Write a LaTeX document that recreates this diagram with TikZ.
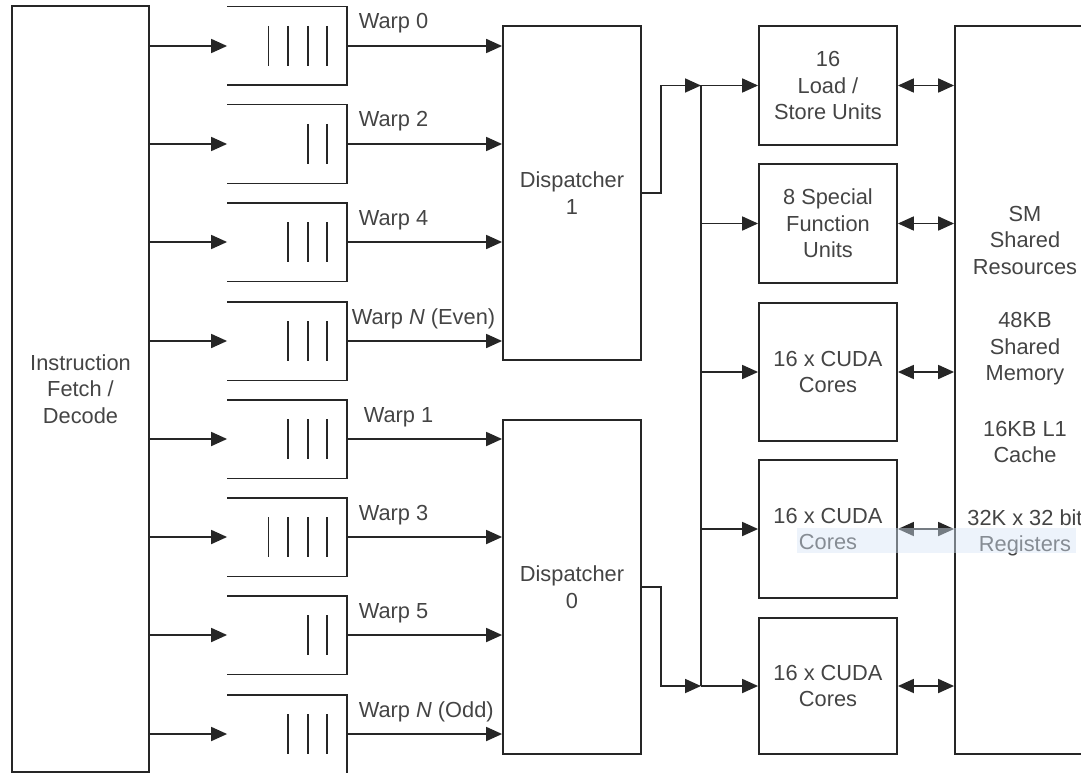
\documentclass[tikz,border=0pt]{standalone}
\usepackage{fontspec}
\setmainfont{Liberation Sans}
\usetikzlibrary{arrows.meta,calc}
\definecolor{linegray}{RGB}{38,38,38}
\definecolor{textgray}{RGB}{68,68,68}
\definecolor{selblue}{RGB}{215,229,246}

\begin{document}
\begin{tikzpicture}[x=1pt,y=-1pt,line width=1.8pt,color=linegray,
  >={Triangle[length=16pt,width=14pt]},
  every node/.style={text=textgray,font=\fontsize{21.8}{26.5}\selectfont},
  unitbox/.style={draw=linegray,inner sep=0pt,align=center,minimum width=138pt},
  queuebox/.style={inner sep=0pt,minimum width=118pt,minimum height=77pt}]
\useasboundingbox (0,0) rectangle (1081,773);
\clip (0,0) rectangle (1081,773);
\node[unitbox,minimum width=137pt,minimum height=766pt] (fetch) at (80.5,389) {Instruction\\Fetch /\\Decode};
\node[unitbox,minimum height=334pt] (disp1) at (572,193) {Dispatcher\\1};
\node[unitbox,minimum height=334pt] (disp0) at (572,587) {Dispatcher\\0};
\foreach \i/\y/\n/\d/\dx/\lab in {0/46/4/1/11/Warp 0, 2/144/2/1/11/Warp 2, 4/242/3/1/11/Warp 4,
    e/341/3/1/4/{Warp \textit{N} (Even)}, 1/439/3/0/16/Warp 1, 3/537/4/0/11/Warp 3,
    5/635/2/0/11/Warp 5, o/734/3/0/11/{Warp \textit{N} (Odd)}} {
  \node[queuebox] (q\i) at (287,\y) {};
  \draw (q\i.north west) -- (q\i.north east) -- (q\i.south east) -- (q\i.south west);
  \foreach \k in {1,...,\n}
    \draw ($(q\i.east)+(-19.6*\k,-20)$) -- ++(0,40);
  \draw[->] (fetch.east |- q\i.west) -- (q\i.west);
  \draw[->] (q\i.east) -- (disp\d.west |- q\i.east);
  \node[anchor=base west,inner sep=0pt] (w\i) at ([shift={(\dx,-17)}]q\i.east) {\lab};
}
\node[unitbox,minimum height=119pt] (lsu) at (828,85.5) {16\\Load /\\Store Units};
\node[unitbox,minimum height=119pt] (sfu) at (828,223.5) {8 Special\\Function\\Units};
\node[unitbox,minimum height=138pt] (cuda1) at (828,372) {16 x CUDA\\Cores};
\node[unitbox,minimum height=138pt] (cuda2) at (828,529) {16 x CUDA\\Cores};
\node[unitbox,minimum height=136pt] (cuda3) at (828,686) {16 x CUDA\\Cores};
\node[unitbox,minimum width=140pt,minimum height=728pt] (sm) at (1025,390) {};
\node[align=center,inner sep=0pt] (smtext) at (1025,381) {SM\\Shared\\Resources\\[27pt]48KB\\Shared\\Memory\\[29pt]16KB L1\\Cache\\[36pt]32K x 32 bit\\Registers};
\coordinate (bus) at (701,0);
\draw[->] (disp1.east) -- ++(19,0) |- (bus |- lsu.west);
\draw[->] (disp0.east) -- ++(19,0) |- (bus |- cuda3.west);
\draw (bus |- lsu.west) -- (bus |- cuda3.west);
\foreach \u in {lsu,sfu,cuda1,cuda2,cuda3} {
  \draw[->] (bus |- \u.west) -- (\u.west);
  \draw[<->] (\u.east) -- (sm.west |- \u.east);
}
\fill[selblue,fill opacity=0.45] (797,528) rectangle (1076,553);
\end{tikzpicture}
\end{document}
